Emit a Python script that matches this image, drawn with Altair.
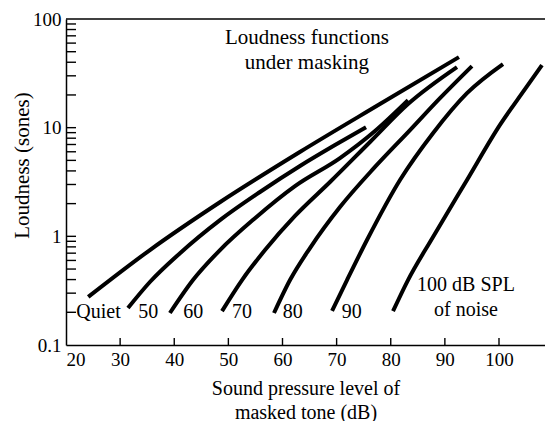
import altair as alt
import pandas as pd

# Loudness (sones) of a tone vs. its level (dB SPL), in quiet and under noise maskers
quiet_db = [24.1, 35.5, 48.5, 63.2, 78.0, 92.6]
quiet_sones = [0.277, 0.748, 2.07, 5.97, 16.5, 44.6]

m50_db = [31.45, 35.5, 41.06, 48.45, 55.84, 63.23, 69.7, 75.43]
m50_sones = [0.219, 0.38, 0.70, 1.41, 2.56, 4.44, 6.92, 10.1]

m60_db = [39.2, 43.46, 48.45, 54.92, 62.31, 70.62, 77.09, 83.19]
m60_sones = [0.197, 0.396, 0.748, 1.47, 2.90, 5.25, 9.31, 17.9]

m70_db = [48.82, 52.52, 56.77, 62.31, 68.78, 76.17, 83.19, 92.24]
m70_sones = [0.205, 0.396, 0.748, 1.54, 3.16, 7.38, 16.5, 36.1]

m80_db = [58.43, 61.39, 65.08, 70.62, 77.09, 83.56, 89.1, 95.01]
m80_sones = [0.197, 0.396, 0.78, 1.86, 4.35, 9.5, 18.7, 36.9]

m90_db = [69.15, 71.92, 75.61, 81.71, 87.8, 94.09, 100.74]
m90_sones = [0.206, 0.396, 0.925, 3.30, 8.9, 20.8, 38.5]

m100_db = [80.42, 83.19, 87.81, 94.09, 100.18, 104.8, 107.94]
m100_sones = [0.205, 0.396, 0.986, 3.30, 10.6, 22.6, 37.7]

# Curve labels near the lower ends
label_text = ["Quiet", "50", "60", "70", "80", "90", "100 dB SPL", "of noise"]
label_db = [26.0, 35.2, 43.5, 52.5, 61.9, 72.8, 93.9, 93.9]
label_sones = [0.2, 0.2, 0.2, 0.2, 0.2, 0.2, 0.356, 0.21]

# In-plot heading
head_text = ["Loudness functions", "under masking"]
head_db = [64.5, 64.5]
head_sones = [66.7, 39.3]

# Axis tick positions
x_ticks = [20, 30, 40, 50, 60, 70, 80, 90, 100]
x_inner_ticks = [30, 40, 50, 60, 70, 80, 90, 100]
y_labels = [0.1, 1, 10, 100]
y_inner_ticks = [0.2, 0.3, 0.4, 0.5, 0.6, 0.7, 0.8, 0.9,
                 1, 2, 3, 4, 5, 6, 7, 8, 9,
                 10, 20, 30, 40, 50, 60, 70, 80, 90]

W, H = 479, 326
FONT = "Liberation Serif"

series = [
    ("Quiet", quiet_db, quiet_sones),
    ("50", m50_db, m50_sones),
    ("60", m60_db, m60_sones),
    ("70", m70_db, m70_sones),
    ("80", m80_db, m80_sones),
    ("90", m90_db, m90_sones),
    ("100", m100_db, m100_sones),
]
curves = pd.DataFrame(
    [{"series": name, "db": d, "sones": s} for name, xs, ys in series for d, s in zip(xs, ys)]
)
labels = pd.DataFrame({"text": label_text, "db": label_db, "sones": label_sones})
heading = pd.DataFrame({"text": head_text, "db": head_db, "sones": head_sones})
xt = pd.DataFrame({"db": x_inner_ticks})
yt = pd.DataFrame({"sones": y_inner_ticks})

x_scale = alt.Scale(domain=[20, 108.5], nice=False, zero=False)
y_scale = alt.Scale(type="log", domain=[0.1, 100], nice=False)

x_axis = alt.Axis(
    values=x_ticks, ticks=False, grid=False, domain=True,
    domainColor="black", domainWidth=1.5,
    labelFont=FONT, labelFontSize=19, labelColor="black", labelPadding=5,
    title=["Sound pressure level of", "masked tone (dB)"],
    titleFont=FONT, titleFontSize=20, titleFontWeight="normal", titleColor="black",
    titlePadding=9, titleLineHeight=24,
)
y_axis = alt.Axis(
    values=y_labels, format="~g", ticks=False, grid=False, domain=True,
    domainColor="black", domainWidth=1.5,
    labelFont=FONT, labelFontSize=19, labelColor="black", labelPadding=5,
    title="Loudness (sones)", titleFont=FONT, titleFontSize=21,
    titleFontWeight="normal", titleColor="black", titleX=-34, titleY=146,
)

X = alt.X("db:Q", scale=x_scale, axis=x_axis)
Y = alt.Y("sones:Q", scale=y_scale, axis=y_axis)

lines = alt.Chart(curves).mark_line(
    color="black", strokeWidth=4, strokeCap="butt", interpolate="monotone"
).encode(x=X, y=Y, detail="series:N")

# Inward-pointing tick marks along the left and bottom edges
y_tick_marks = alt.Chart(yt).mark_rule(color="black", strokeWidth=1.4).encode(
    y=Y, x=alt.value(0), x2=alt.value(10)
)
x_tick_marks = alt.Chart(xt).mark_rule(color="black", strokeWidth=1.4).encode(
    x=X, y=alt.value(H), y2=alt.value(H - 7)
)

top_border = alt.Chart(pd.DataFrame({"sones": [100]})).mark_rule(
    color="black", strokeWidth=1.5
).encode(y=Y, x=alt.value(0), x2=alt.value(W))

curve_labels = alt.Chart(labels).mark_text(
    font=FONT, fontSize=20, color="black", align="center", baseline="middle"
).encode(x=X, y=Y, text="text:N")

heading_text = alt.Chart(heading).mark_text(
    font=FONT, fontSize=21, color="black", align="center", baseline="middle"
).encode(x=X, y=Y, text="text:N")

chart = alt.layer(
    lines, y_tick_marks, x_tick_marks, top_border, curve_labels, heading_text
).properties(
    width=W, height=H,
    padding={"left": 66, "top": 19, "right": 0, "bottom": 76},
    autosize="none",
    background="white",
).configure_view(stroke=None)

chart.save("out.html", embed_options={"renderer": "svg", "actions": False})
